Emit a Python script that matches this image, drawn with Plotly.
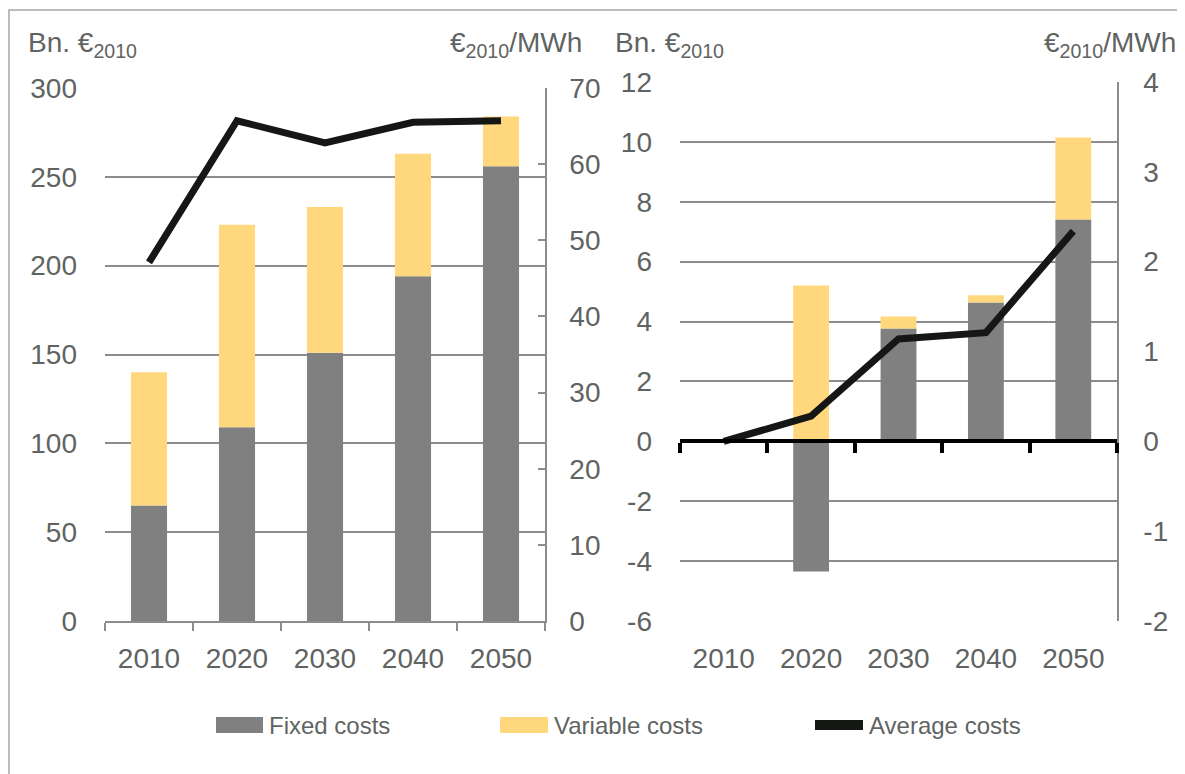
import plotly.graph_objects as go

years = ["2010", "2020", "2030", "2040", "2050"]
left_fixed = [65, 109, 151, 194, 256]
left_variable = [75, 114, 82, 69, 28]
left_avg = [47.1, 65.7, 62.8, 65.5, 65.7]
right_fixed = [0, -4.35, 3.77, 4.64, 7.41]
right_variable = [0, 5.2, 0.4, 0.24, 2.74]
right_avg = [0, 0.28, 1.14, 1.21, 2.34]

right_bn_ticks = [-6, -4, -2, 0, 2, 4, 6, 8, 10, 12]
right_bn_labels = ["-6", "-4", "-2", "0", "2", "4", "6", "8", "10", "12"]
right_mwh_ticks = [-2, -1, 0, 1, 2, 3, 4]
right_mwh_labels = ["-2", "-1", "0", "1", "2", "3", "4"]

legend_names = ["Fixed costs", "Variable costs", "Average costs"]
left_title = "Bn. €<sub>2010</sub>"
right_title = "€<sub>2010</sub>/MWh"

OFF = 8  # page body margin
W, H = 1185 - OFF, 774 - OFF
FIXED = "#808080"
VAR = "#FFD87D"
LINE = "#151715"
GRID = "#8c8c8c"
TXT = "#5f6462"
FONT = "Liberation Sans, Arial, sans-serif"


def px(x):
    return (x - OFF) / W


def py(y):
    return 1 - (y - OFF) / H


fig = go.Figure()
# left chart
fig.add_trace(go.Bar(x=years, y=left_fixed, marker_color=FIXED, xaxis="x", yaxis="y", showlegend=False))
fig.add_trace(go.Bar(x=years, y=left_variable, marker_color=VAR, xaxis="x", yaxis="y", showlegend=False))
fig.add_trace(go.Scatter(x=years, y=left_avg, mode="lines", line=dict(color=LINE, width=7),
                         xaxis="x", yaxis="y2", showlegend=False))
# right chart
fig.add_trace(go.Bar(x=years, y=right_fixed, marker_color=FIXED, xaxis="x2", yaxis="y3", showlegend=False))
fig.add_trace(go.Bar(x=years, y=right_variable, marker_color=VAR, xaxis="x2", yaxis="y3", showlegend=False))
fig.add_trace(go.Scatter(x=years, y=right_avg, mode="lines", line=dict(color=LINE, width=7),
                         xaxis="x3", yaxis="y4", showlegend=False))

yd1 = [py(621), py(88)]
yd2 = [py(621), py(82)]
zero_pos = yd2[0] + (yd2[1] - yd2[0]) * 6 / 18

tickfont = dict(family=FONT, size=28, color=TXT)

fig.update_layout(
    template="none",
    width=W, height=H,
    margin=dict(l=0, r=0, t=0, b=0, autoexpand=False),
    paper_bgcolor="white", plot_bgcolor="white",
    barmode="relative", bargap=0.59,
    font=dict(family=FONT, color=TXT),
    xaxis=dict(domain=[px(105), px(545)], anchor="y", type="category", range=[-0.5, 4.5],
               showline=True, linecolor=GRID, linewidth=1.5, ticks="outside", tickson="boundaries",
               ticklen=8, tickcolor=GRID, tickwidth=1.5, tickfont=tickfont, ticklabelstandoff=12,
               showgrid=False, automargin=False),
    yaxis=dict(domain=yd1, anchor="x", range=[0, 300], dtick=50, showgrid=True, gridcolor=GRID,
               gridwidth=1.5, showline=False, ticks="", tickfont=tickfont, ticklabelstandoff=27,
               zeroline=False, automargin=False),
    yaxis2=dict(overlaying="y", anchor="x", side="right", range=[0, 70], dtick=10, showgrid=False,
                showline=True, linecolor=GRID, linewidth=1.5, ticks="inside", ticklen=7,
                tickcolor=GRID, tickwidth=1.5, tickfont=tickfont, ticklabelstandoff=17, zeroline=False,
                automargin=False),
    xaxis2=dict(domain=[px(680), px(1117)], anchor="y3", type="category", range=[-0.5, 4.5],
                showline=False, ticks="", tickfont=tickfont, ticklabelstandoff=18, showgrid=False,
                automargin=False),
    xaxis3=dict(overlaying="x2", anchor="free", position=zero_pos, type="category", range=[-0.5, 4.5],
                showline=True, linecolor="black", linewidth=4, ticks="outside", tickson="boundaries",
                ticklen=10, tickcolor="black", tickwidth=4, showticklabels=False, showgrid=False,
                automargin=False),
    yaxis3=dict(domain=yd2, anchor="x2", range=[-6, 12], tickmode="array", tickvals=right_bn_ticks,
                ticktext=right_bn_labels, showgrid=True, gridcolor=GRID,
                gridwidth=1.5, showline=False, ticks="", tickfont=tickfont, ticklabelstandoff=27,
                zeroline=False, automargin=False),
    yaxis4=dict(overlaying="y3", anchor="x2", side="right", range=[-2, 4], tickmode="array",
                tickvals=right_mwh_ticks, ticktext=right_mwh_labels, showgrid=False,
                showline=True, linecolor=GRID, linewidth=1.5, ticks="", tickfont=tickfont,
                ticklabelstandoff=19, zeroline=False, automargin=False),
)

annos = [
    dict(text=left_title, x=px(26), y=py(45), xanchor="left"),
    dict(text=right_title, x=px(584), y=py(45), xanchor="right"),
    dict(text=left_title, x=px(613), y=py(45), xanchor="left"),
    dict(text=right_title, x=px(1178), y=py(45), xanchor="right"),
]
for a in annos:
    fig.add_annotation(xref="paper", yref="paper", yanchor="middle", showarrow=False,
                       font=dict(family=FONT, size=28, color=TXT), **a)

# legend (custom)
leg_y = 725
swatches = [(216, 263, FIXED), (500, 548, VAR)]
for x0, x1, c in swatches:
    fig.add_shape(type="rect", xref="paper", yref="paper", x0=px(x0), x1=px(x1),
                  y0=py(733), y1=py(717), fillcolor=c, line=dict(width=0))
fig.add_shape(type="line", xref="paper", yref="paper", x0=px(815), x1=px(863),
              y0=py(leg_y), y1=py(leg_y), line=dict(color=LINE, width=10))
for name, x in zip(legend_names, [267, 552, 867]):
    fig.add_annotation(xref="paper", yref="paper", x=px(x), y=py(leg_y), text=name, xanchor="left",
                       yanchor="middle", showarrow=False, font=dict(family=FONT, size=24, color=TXT))

# outer border
fig.add_shape(type="rect", xref="paper", yref="paper", x0=px(9), x1=1.02, y0=-0.02, y1=py(10),
              line=dict(color="#a6a6a6", width=1.5), fillcolor="rgba(0,0,0,0)", layer="below")

fig.write_html("out.html")
